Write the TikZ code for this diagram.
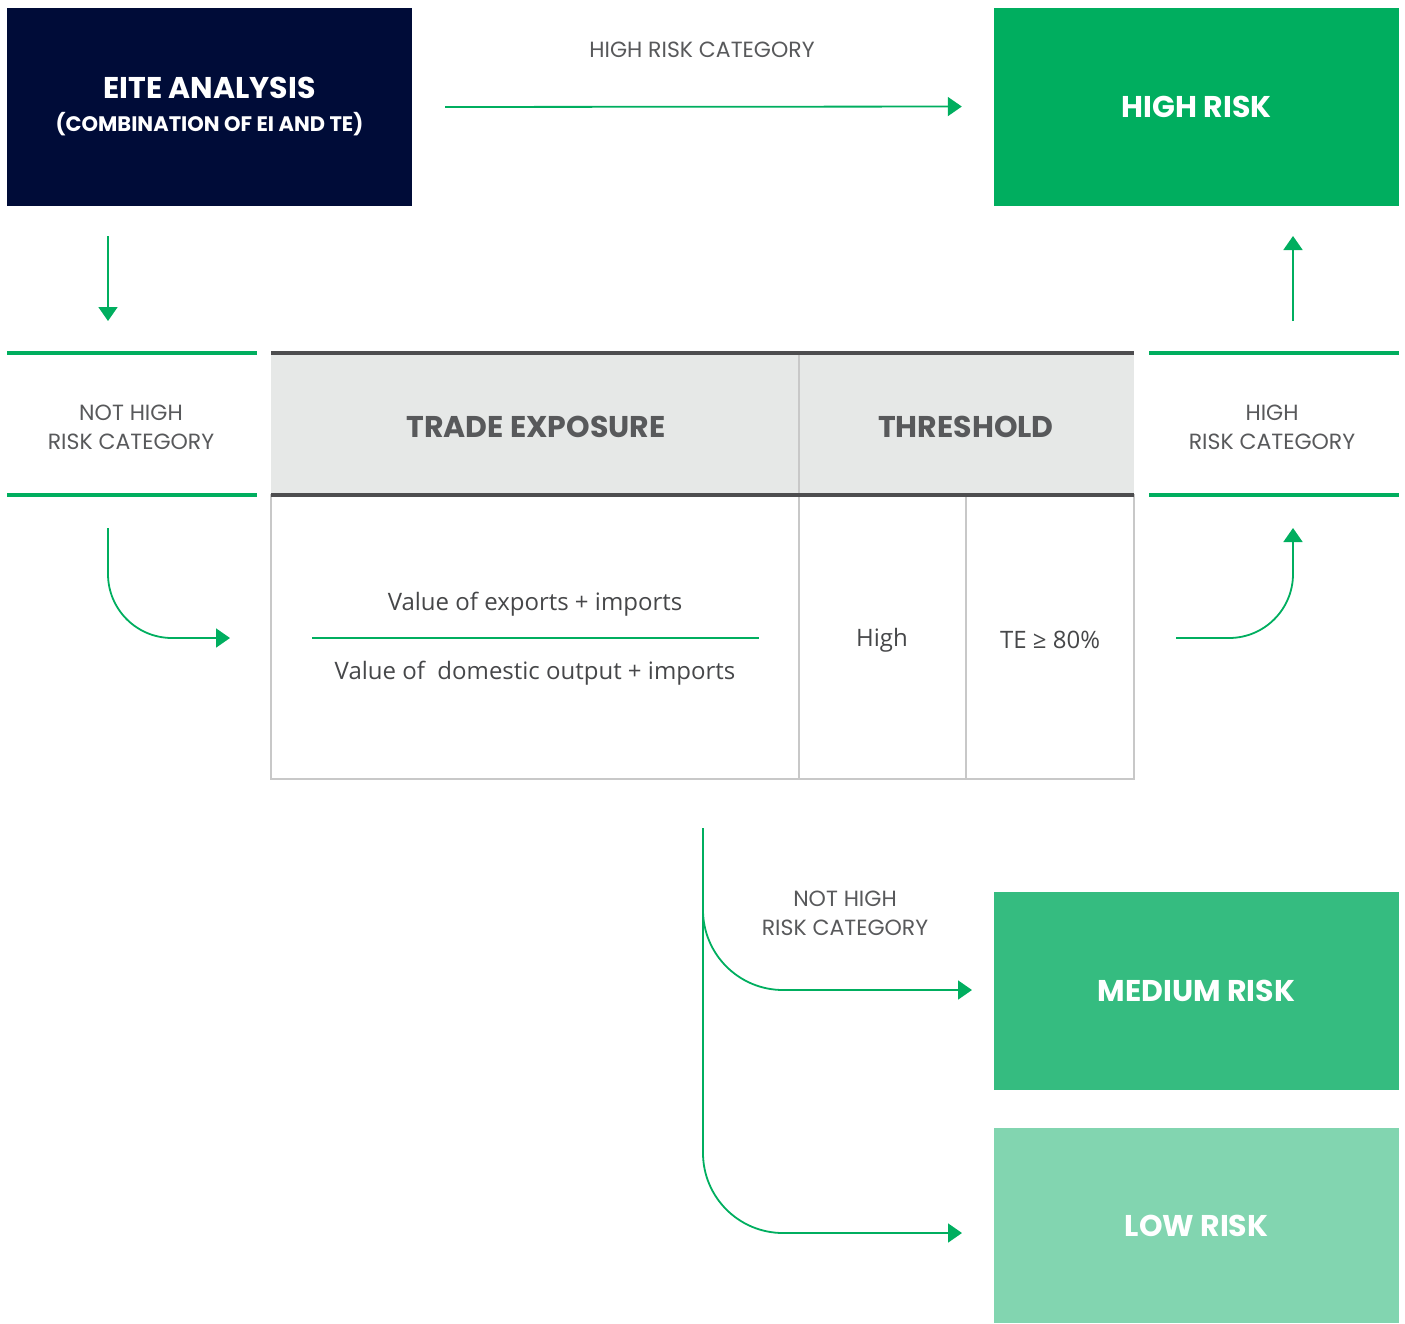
\documentclass[tikz,border=0pt]{standalone}
\usepackage{fontspec}
\setmainfont{Poppins}
\newfontfamily\cellfont{Open Sans}
\usetikzlibrary{arrows.meta}

\definecolor{eitenavy}{HTML}{000C38}
\definecolor{flowgreen}{HTML}{00AE5F}
\definecolor{medgreen}{HTML}{35BC80}
\definecolor{lowgreen}{HTML}{82D5B0}
\definecolor{headgray}{HTML}{E6E8E7}
\definecolor{ruledark}{HTML}{4D4D4F}
\definecolor{cellline}{HTML}{C8C8C8}
\definecolor{textgray}{HTML}{58595B}

\tikzset{
  riskbox/.style={minimum width=405pt, minimum height=198pt, inner sep=0pt,
    text=white, align=center, font=\fontsize{30}{36}\selectfont\bfseries},
  catlabel/.style={align=center, text=textgray, inner sep=0pt,
    font=\fontsize{22}{29}\selectfont},
  headlabel/.style={text=textgray, font=\fontsize{30}{34}\selectfont\bfseries},
  celltext/.style={text=textgray!80!black, font=\cellfont\fontsize{24}{28}\selectfont},
  flow/.style={draw=flowgreen, line width=1.8pt, -{Triangle[length=14pt,width=19pt]}},
  band/.style={flowgreen, line width=4pt},
}

\begin{document}
\begin{tikzpicture}[x=1pt,y=-1pt]
  \useasboundingbox (0,0) rectangle (1405,1323);

  % boxes
  \node[riskbox, fill=eitenavy] (eite) at (209.5,107)
    {EITE ANALYSIS\\[-3pt]{\fontsize{21}{26}\selectfont(COMBINATION OF EI AND TE)}};
  \node[riskbox, fill=flowgreen] (highrisk) at (1196.5,106.5) {HIGH RISK};
  \node[riskbox, fill=medgreen] (medrisk) at (1196.5,990.5) {MEDIUM RISK};
  \node[riskbox, fill=lowgreen, minimum height=195pt] (lowrisk) at (1196.5,1225.5) {LOW RISK};

  % top route
  \node[catlabel] (toplab) at (702,50) {HIGH RISK CATEGORY};
  \draw[flow, shorten <=33pt, shorten >=32pt] (eite.east) -- (highrisk.west);

  % side bands
  \draw[band] (7,353) -- (257,353);
  \draw[band] (7,495) -- (257,495);
  \node[catlabel] (nhleft) at (131,427) {NOT HIGH\\RISK CATEGORY};
  \draw[band] (1149,353) -- (1399,353);
  \draw[band] (1149,495) -- (1399,495);
  \node[catlabel] (hright) at (1272,427) {HIGH\\RISK CATEGORY};

  \coordinate (downA) at (108,236);
  \coordinate (downB) at (108,321);
  \draw[flow] (downA) -- (downB);
  \coordinate (upA) at (1293,321);
  \coordinate (upB) at (1293,236);
  \draw[flow] (upA) -- (upB);

  \coordinate (inA) at (108,528);
  \coordinate (inB) at (230,638);
  \draw[flow, rounded corners=64pt] (inA) |- (inB);
  \coordinate (outA) at (1176,638);
  \coordinate (outB) at (1293,528);
  \draw[flow, rounded corners=64pt] (outA) -| (outB);

  % table
  \fill[headgray] (271,353) rectangle (1134,495);
  \draw[cellline, line width=1.5pt] (799,353) -- (799,495);
  \draw[cellline, line width=1.5pt] (271,495) rectangle (1134,779);
  \draw[cellline, line width=1.5pt] (799,495) -- (799,779);
  \draw[cellline, line width=1.5pt] (966,495) -- (966,779);
  \draw[ruledark, line width=4pt] (271,353) -- (1134,353);
  \draw[ruledark, line width=4pt] (271,495) -- (1134,495);

  \node[headlabel] (tehead) at (536,427) {TRADE EXPOSURE};
  \node[headlabel] (thhead) at (966,427) {THRESHOLD};
  \node[celltext] (num) at (535,604) {Value of exports + imports};
  \node[celltext] (den) at (535,673) {Value of\ \ domestic output + imports};
  \draw[flowgreen, line width=1.8pt] (312,638) -- (759,638);
  \node[celltext] (high) at (882,640) {High};
  \node[celltext] (thval) at (1050,640) {TE ≥ 80\%};

  % lower routes
  \coordinate (trunk) at (703,828);
  \coordinate (midA) at (703,905);
  \draw[flow, rounded corners=80pt] (midA) |- (972,990);
  \draw[flow, rounded corners=80pt] (trunk) |- (962,1233);
  \node[catlabel] (nhlow) at (845,913) {NOT HIGH\\RISK CATEGORY};
\end{tikzpicture}
\end{document}
